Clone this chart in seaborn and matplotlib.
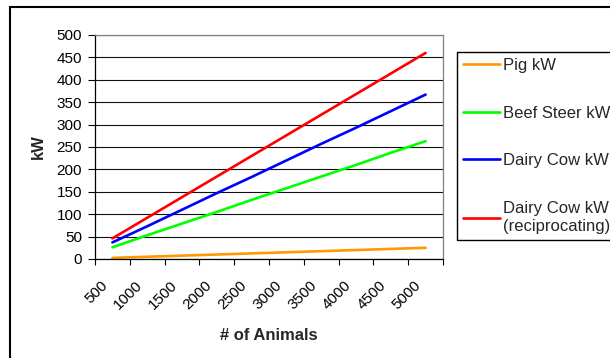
import numpy as np
import pandas as pd
import seaborn as sns
import matplotlib.pyplot as plt
from matplotlib.patches import Rectangle
from matplotlib.ticker import FixedLocator, MultipleLocator
from matplotlib.transforms import ScaledTranslation

# Herd size categories and electrical output per livestock type
animals = ['500', '1000', '1500', '2000', '2500', '3000', '3500', '4000', '4500', '5000']
pig_kw = [2.5, 5, 7.5, 10, 12.5, 15, 17.5, 20, 22.5, 25]
beef_steer_kw = [26, 53, 79, 105, 132, 158, 184, 210, 237, 263]
dairy_cow_kw = [37, 73, 110, 147, 183, 220, 257, 293, 330, 367]
dairy_cow_recip_kw = [46, 92, 138, 184, 230, 276, 322, 368, 414, 460]

series_names = ['Pig kW', 'Beef Steer kW', 'Dairy Cow kW', 'Dairy Cow kW\n(reciprocating)']
series_values = [pig_kw, beef_steer_kw, dairy_cow_kw, dairy_cow_recip_kw]
series_colors = ['#FF9900', '#00FF00', '#0000FF', '#FF0000']

df = pd.concat(
    [pd.DataFrame({'animals': animals, 'kw': vals, 'series': name})
     for name, vals in zip(series_names, series_values)],
    ignore_index=True,
)

sns.set_theme(style='white')
plt.rcParams['font.family'] = ['Liberation Sans', 'DejaVu Sans']

W, H = 610, 358
fig = plt.figure(figsize=(W / 100, H / 100), dpi=100)
ax = fig.add_axes([95 / W, 1 - 259 / H, (443 - 95) / W, (259 - 35) / H])

sns.lineplot(data=df, x='animals', y='kw', hue='series', hue_order=series_names,
             palette=series_colors, linewidth=1.9, ax=ax, legend=False, sort=False)

# Axis ranges and ticks
ax.set_ylim(0, 500)
ax.set_xlim(-0.5, len(animals) - 0.5)
ax.yaxis.set_major_locator(MultipleLocator(50))
ax.grid(axis='y', color='#111111', linewidth=0.8)
ax.grid(axis='x', visible=False)
ax.set_axisbelow(True)

ax.xaxis.set_major_locator(FixedLocator(np.arange(len(animals))))
ax.set_xticklabels(animals)
ax.xaxis.set_minor_locator(FixedLocator(np.arange(len(animals) + 1) - 0.5))
ax.tick_params(axis='x', which='major', length=0, pad=17, labelsize=11, colors='black')
ax.tick_params(axis='x', which='minor', bottom=True, length=4.5, width=0.8, color='black')
ax.tick_params(axis='y', which='major', left=True, length=5, width=0.8, pad=4.3,
               labelsize=11, colors='black')
shift = ScaledTranslation(-7 / 100, -1 / 100, fig.dpi_scale_trans)
for lab in ax.get_xticklabels():
    lab.set_rotation(45)
    lab.set_ha('right')
    lab.set_va('center')
    lab.set_rotation_mode('anchor')
    lab.set_transform(lab.get_transform() + shift)

for side in ['left', 'bottom']:
    ax.spines[side].set_color('black')
    ax.spines[side].set_linewidth(0.9)
for side in ['top', 'right']:
    ax.spines[side].set_color('#808080')
    ax.spines[side].set_linewidth(0.9)

ax.set_xlabel('# of Animals', fontsize=12, fontweight='bold', labelpad=11)
ax.set_ylabel('kW', fontsize=12, fontweight='bold', labelpad=7.4)

# Legend (frame drawn separately so it runs off the right edge)
handles = ax.get_lines()[:len(series_names)]
leg = ax.legend(handles, series_names, loc='upper left',
                bbox_to_anchor=(457 / W, 1 - 52 / H), bbox_transform=fig.transFigure,
                borderaxespad=0, frameon=False, fontsize=12, handlelength=2.2,
                handletextpad=0.2, labelspacing=1.96, borderpad=0.35)
for t in leg.get_texts():
    t.set_linespacing(1.3)
fig.add_artist(Rectangle((457 / W, 1 - 240 / H), 0.5, (240 - 52) / H, fill=False,
                         edgecolor='black', linewidth=1.0, transform=fig.transFigure))

# Chart area border
fig.add_artist(Rectangle((10 / W, -0.1), 1.0, 1 - 7 / H + 0.1, fill=False,
                         edgecolor='black', linewidth=1.5, transform=fig.transFigure))

fig.savefig('out.png', dpi=100)
